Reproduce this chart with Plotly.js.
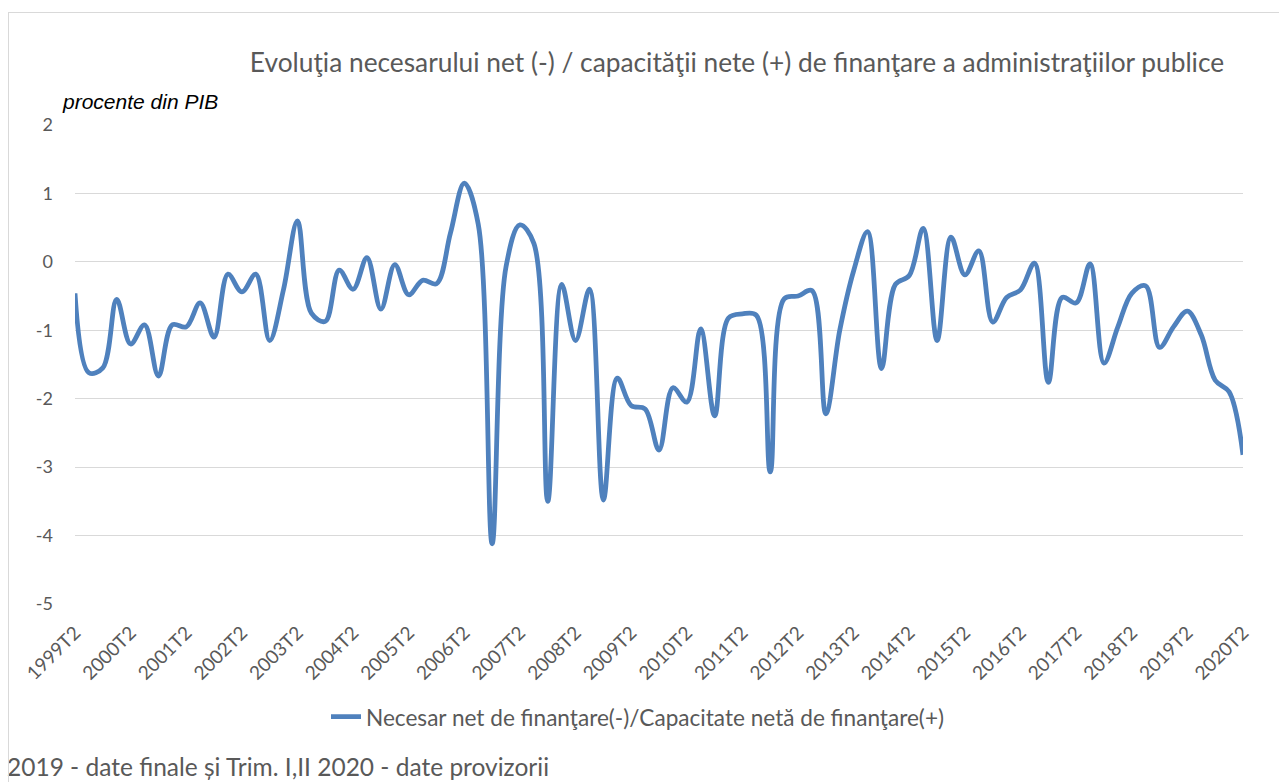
<!DOCTYPE html>
<html>
<head>
<meta charset="utf-8">
<script src="https://cdn.plot.ly/plotly-3.0.1.min.js"></script>
<style>
  html, body { margin: 0; padding: 0; background: #ffffff; overflow: hidden; }
  #chart { width: 1279px; height: 782px; }
  #frame { position: absolute; left: 8px; top: 12px; width: 1300px; height: 800px; border: 1px solid #d9d9d9; pointer-events: none; }
</style>
</head>
<body>
<div id="chart"></div>
<div id="frame"></div>
<script>
// Quarters 1999T2 ... 2020T2
const firstYear = 1999, lastYear = 2020;
const quarters = [];
for (let y = firstYear; y <= lastYear; y++) {
  for (let q = 1; q <= 4; q++) {
    if (y === firstYear && q < 2) continue;
    if (y === lastYear && q > 2) continue;
    quarters.push(y + 'T' + q);
  }
}

// Net lending (+) / net borrowing (-) of general government, % of GDP
const balance = [
  -0.46, -1.62, -1.55, -0.55, -1.20, -0.92, -1.67, -0.92, -0.95, -0.60,
  -1.10, -0.18, -0.44, -0.18, -1.15, -0.40,  0.60, -0.75, -0.87, -0.12,
  -0.40,  0.06, -0.69, -0.04, -0.48, -0.27, -0.32,  0.42,  1.15,  0.55,
  -4.12, -0.07,  0.54,  0.27, -3.50, -0.33, -1.15, -0.40, -3.48, -1.70,
  -2.10, -2.15, -2.75, -1.84, -2.05, -0.98, -2.25, -0.82, -0.76, -0.78,
  -3.07, -0.54, -0.50, -0.42, -2.22, -1.00, -0.13,  0.44, -1.56, -0.33,
  -0.20,  0.49, -1.15,  0.36, -0.19,  0.16, -0.88, -0.52, -0.41, -0.02,
  -1.76, -0.52, -0.60, -0.03, -1.48, -0.95, -0.46, -0.35, -1.25, -0.95,
  -0.72, -1.07, -1.73, -1.90, -2.82
];

const tickLabels = quarters.filter(q => q.endsWith('T2'));
const yTicks = [2, 1, 0, -1, -2, -3, -4, -5];

const seriesName = 'Necesar net de finanţare(-)/Capacitate netă de finanţare(+)';
const titleText = 'Evoluţia necesarului net (-) / capacităţii nete (+) de finanţare a administraţiilor publice';
const yUnit = 'procente din PIB';
const footnote = '2019 - date finale și Trim. I,II 2020 - date provizorii';

const gray = '#595959';
const baseFont = 'Lato, "Open Sans", sans-serif';

const trace = {
  type: 'scatter',
  mode: 'lines',
  x: quarters,
  y: balance,
  name: seriesName,
  line: { color: '#4f81bd', width: 4.8, shape: 'spline', smoothing: 1 },
  hoverinfo: 'x+y'
};

const layout = {
  width: 1279,
  height: 782,
  margin: { l: 75, r: 36, t: 125, b: 178 },
  paper_bgcolor: '#ffffff',
  plot_bgcolor: '#ffffff',
  font: { family: baseFont, color: gray, size: 16 },
  title: {
    text: titleText,
    font: { family: baseFont, size: 26.3, color: gray },
    x: 737 / 1279, xanchor: 'center', xref: 'container',
    y: 1 - 63 / 782, yanchor: 'middle', yref: 'container'
  },
  xaxis: {
    type: 'category',
    range: [0, quarters.length - 1],
    tickmode: 'array',
    tickvals: tickLabels,
    ticktext: tickLabels,
    tickangle: -45,
    showgrid: false,
    zeroline: false,
    showline: false,
    ticks: '',
    ticklabelstandoff: 13,
    tickfont: { family: baseFont, size: 19, color: gray }
  },
  yaxis: {
    range: [-5, 2],
    tickmode: 'array',
    tickvals: yTicks,
    ticktext: yTicks.map(String),
    showgrid: true,
    gridcolor: '#d9d9d9',
    gridwidth: 1,
    zeroline: false,
    showline: false,
    ticks: '',
    ticklabelstandoff: 21,
    tickfont: { family: baseFont, size: 18, color: gray }
  },
  showlegend: true,
  legend: {
    orientation: 'h',
    x: 326 / 1279, xanchor: 'left',
    y: 1 - 717 / 782, yanchor: 'middle',
    xref: 'container', yref: 'container',
    font: { family: baseFont, size: 22.6, color: gray },
    bgcolor: 'rgba(0,0,0,0)'
  },
  annotations: [
    {
      text: yUnit, xref: 'paper', yref: 'paper',
      x: (60 - 75) / 1168, xanchor: 'left', y: (604 - 102) / 479, yanchor: 'middle',
      showarrow: false,
      font: { family: '"Liberation Sans", Arial, sans-serif', size: 21, color: '#000000', style: 'italic' }
    },
    {
      text: footnote, xref: 'paper', yref: 'paper',
      x: (5 - 75) / 1168, xanchor: 'left', y: (604 - 766) / 479, yanchor: 'middle',
      showarrow: false,
      font: { family: baseFont, size: 24.5, color: gray }
    }
  ]
};

Plotly.newPlot('chart', [trace], layout, { displayModeBar: false, staticPlot: true });
</script>
</body>
</html>
